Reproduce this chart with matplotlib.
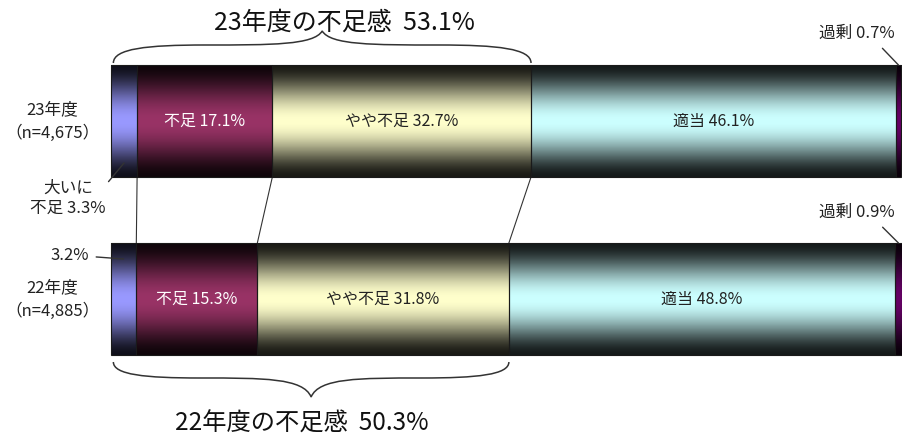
import numpy as np
import matplotlib.pyplot as plt
from matplotlib.path import Path
from matplotlib.patches import PathPatch

plt.rcParams['font.family'] = ['Noto Sans CJK JP', 'DejaVu Sans']

# survey data (percent)
years = ['23年度', '22年度']
n_labels = ['（n=4,675）', '（n=4,885）']
categories = ['大いに不足', '不足', 'やや不足', '適当', '過剰']
values_23 = [3.3, 17.1, 32.7, 46.1, 0.7]
values_22 = [3.2, 15.3, 31.8, 48.8, 0.9]
shortage_totals = [53.1, 50.3]
seg_colors = ['#9999FF', '#993366', '#FFFFCC', '#CCFFFF', '#660066']
label_colors = [None, 'white', '#222222', '#222222', None]

rows = [values_23, values_22]

# layout in pixels (y) / percent (x)
W, H = 903, 440
X0, PX = 111, 7.91
bar_y = [121, 299]
bar_h = 112

fig = plt.figure(figsize=(W / 100, H / 100), dpi=100)
ax = fig.add_axes([0, 0, 1, 1])
ax.axis('off')

t = np.linspace(0, 1, 200)
shade = 0.1 + 0.9 * np.sin(np.pi * t) ** 1.7


def to_rgb(c):
    c = c.lstrip('#')
    return np.array([int(c[i:i + 2], 16) / 255 for i in (0, 2, 4)])


for yc, vals in zip(bar_y, rows):
    lefts = np.concatenate([[0], np.cumsum(vals)[:-1]])
    bars = ax.barh(yc, vals, left=lefts, height=bar_h, facecolor='none',
                   edgecolor='#1a1a1a', linewidth=0.8, zorder=3)
    for bar, col in zip(bars, seg_colors):
        grad = shade[:, None, None] * to_rgb(col)[None, None, :]
        x, y = bar.get_x(), bar.get_y()
        im = ax.imshow(grad, extent=(x, x + bar.get_width(), y, y + bar.get_height()),
                       aspect='auto', interpolation='bilinear', zorder=2)
        im.set_clip_path(bar)
    # labels inside the middle segments
    for i in (1, 2, 3):
        ax.text(lefts[i] + vals[i] / 2, yc, f'{categories[i]} {vals[i]}%',
                ha='center', va='center', fontsize=11.5, color=label_colors[i], zorder=4)

# connector lines between the two bars
top_bottom = bar_y[0] + bar_h / 2
bot_top = bar_y[1] - bar_h / 2
for b1, b2 in zip(np.cumsum(values_23)[:3], np.cumsum(values_22)[:3]):
    ax.plot([b1, b2], [top_bottom, bot_top], color='#333333', lw=0.8, zorder=1)

# year labels on the left
for yc, yr, nl in zip(bar_y, years, n_labels):
    xl = (52 - X0) / PX
    ax.text(xl, yc - 11, yr, ha='center', va='center', fontsize=12, color='#222222')
    ax.text(xl, yc + 12, nl, ha='center', va='center', fontsize=12, color='#222222')

# outside labels with leader lines
ax.annotate(f'大いに\n不足 {values_23[0]}%', xy=(values_23[0] / 2, bar_y[0] + 42),
            xytext=((68 - X0) / PX, 198), ha='center', va='center', fontsize=12,
            linespacing=1.25, color='#222222',
            arrowprops=dict(arrowstyle='-', color='#333333', lw=1,
                            shrinkA=0, shrinkB=0, relpos=(1.0, 0.85)))
ax.annotate(f'{values_22[0]}%', xy=(values_22[0] / 2, 259),
            xytext=((70 - X0) / PX, 255), ha='center', va='center', fontsize=12,
            color='#222222',
            arrowprops=dict(arrowstyle='-', color='#333333', lw=1,
                            shrinkA=3, shrinkB=0))
for yc, vals, ty in zip(bar_y, rows, [33, 212]):
    end = sum(vals)
    ax.annotate(f'過剰 {vals[4]}%', xy=(end - vals[4] / 2, yc - bar_h / 2),
                xytext=((857 - X0) / PX, ty), ha='center', va='center', fontsize=12,
                color='#222222',
                arrowprops=dict(arrowstyle='-', color='#333333', lw=1,
                                shrinkA=4, shrinkB=0, relpos=(0.75, 0.0)))


def brace(x0, x1, y_end, y_mid, y_tip):
    xm = (x0 + x1) / 2
    L = x1 - x0
    verts = [
        (x0, y_end), (x0, y_mid + (y_end - y_mid) * 0.2), (x0 + 0.08 * L, y_mid),
        (x0 + 0.22 * L, y_mid),
        (xm - 0.12 * L, y_mid), (xm - 0.02 * L, y_mid), (xm, y_tip),
        (xm + 0.02 * L, y_mid), (xm + 0.12 * L, y_mid), (x1 - 0.22 * L, y_mid),
        (x1 - 0.08 * L, y_mid), (x1, y_mid + (y_end - y_mid) * 0.2), (x1, y_end),
    ]
    codes = [Path.MOVETO] + [Path.CURVE4] * 12
    ax.add_patch(PathPatch(Path(verts, codes), facecolor='none',
                           edgecolor='#333333', lw=1.1, zorder=1))


brace(0.3, shortage_totals[0], 63, 45, 31)
brace(0.3, shortage_totals[1], 362, 378, 397)

ax.text(shortage_totals[0] / 2 + 3.0, 23, f'{years[0]}の不足感  {shortage_totals[0]}%',
        ha='center', va='center', fontsize=18, color='#111111')
ax.text(shortage_totals[1] / 2 - 1, 424, f'{years[1]}の不足感  {shortage_totals[1]}%',
        ha='center', va='center', fontsize=17.5, color='#111111')

ax.set_xlim(-X0 / PX, (W - X0) / PX)
ax.set_ylim(H, 0)

fig.savefig('out.png', dpi=100)
